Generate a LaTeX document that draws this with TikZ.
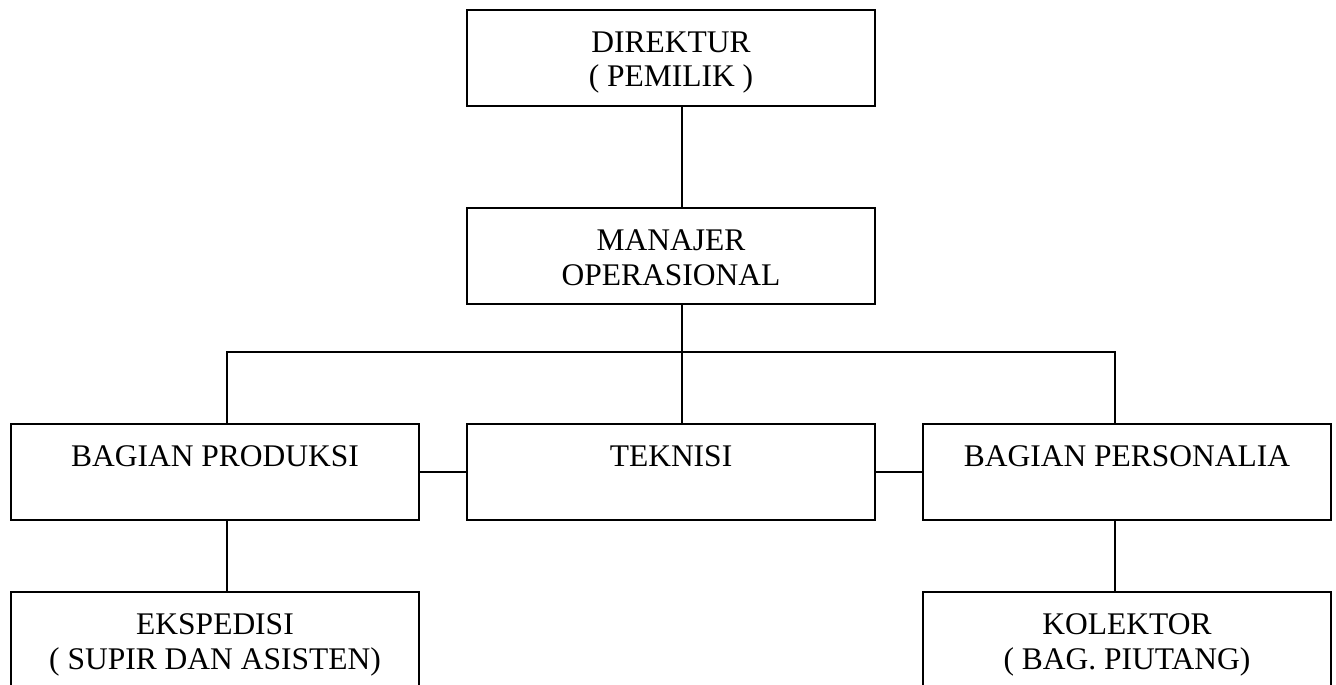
\documentclass[tikz,border=0pt]{standalone}
\usepackage{fontspec}
\setmainfont{Liberation Serif}

\begin{document}
\begin{tikzpicture}[x=1pt,y=-1pt,
    post/.style={draw,line width=2.5pt,rectangle,minimum width=408pt,
      inner sep=0pt,outer sep=0pt,text height=42pt,text depth=54pt,
      align=center,anchor=north,font=\fontsize{31.5}{35}\selectfont},
    posttwo/.style={post,text height=77pt,text depth=19pt},
    link/.style={line width=2.5pt}]
    \useasboundingbox (0,0) rectangle (1336,685);
    \clip (0,0) rectangle (1336,685);

    % Top
    \node[posttwo] (dir) at (671,10) {DIREKTUR\\( PEMILIK )};
    \node[posttwo] (man) at (671,208) {MANAJER\\OPERASIONAL};

    % Middle row
    \node[post] (prod) at (215,424) {BAGIAN PRODUKSI};
    \node[post] (tek) at (671,424) {TEKNISI};
    \node[post] (pers) at (1127,424) {BAGIAN PERSONALIA};

    % Bottom row
    \node[posttwo] (eks) at (215,592) {EKSPEDISI\\( SUPIR DAN ASISTEN)};
    \node[posttwo] (kol) at (1127,592) {KOLEKTOR\\( BAG. PIUTANG)};

    % Bus
    \coordinate (trunk) at (682,352);
    \coordinate (busL) at (227,352);
    \coordinate (busR) at (1115,352);

    % Lines
    \draw[link] (dir.south -| trunk) -- (man.north -| trunk);
    \draw[link] (man.south -| trunk) -- (tek.north -| trunk);
    \draw[link] (prod.north -| busL) -- (busL) -- (busR) -- (pers.north -| busR);
    \draw[link] (prod.south -| busL) -- (eks.north -| busL);
    \draw[link] (pers.south -| busR) -- (kol.north -| busR);
    \draw[link] (prod.east) -- (tek.west);
    \draw[link] (tek.east) -- (pers.west);
\end{tikzpicture}
\end{document}
